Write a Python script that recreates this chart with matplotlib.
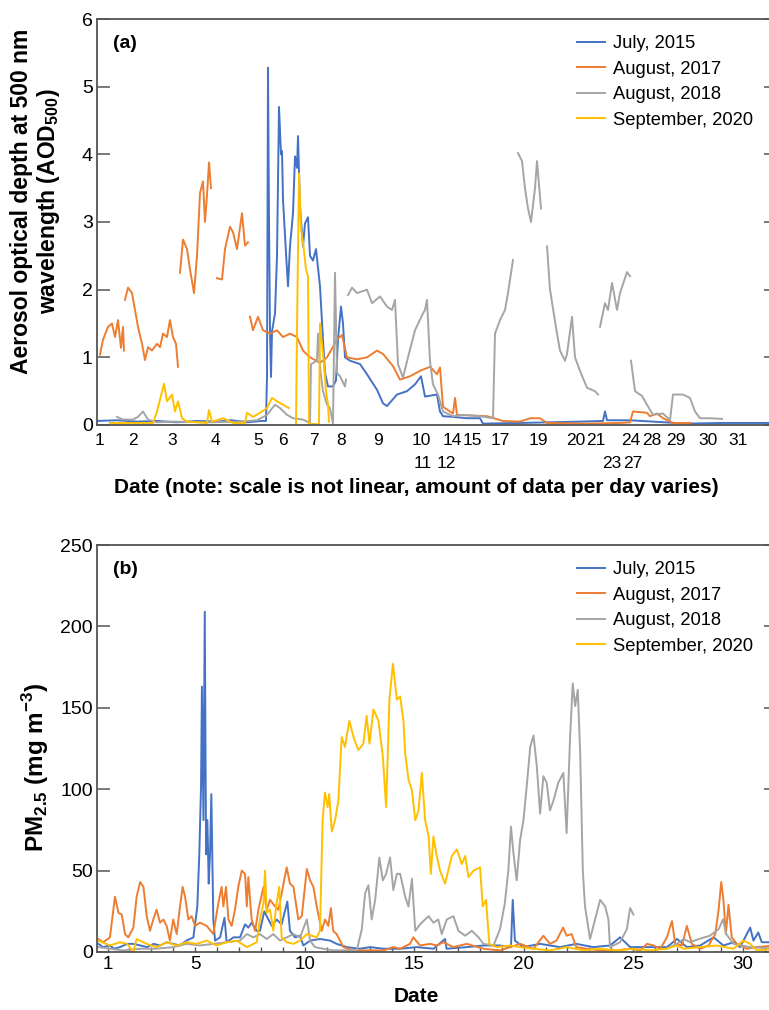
import numpy as np
import matplotlib
matplotlib.use('Agg')
import matplotlib.pyplot as plt

plt.rcParams['font.family'] = ['Liberation Sans', 'DejaVu Sans']
plt.rcParams['mathtext.fontset'] = 'custom'
plt.rcParams['mathtext.rm'] = 'Liberation Sans'
plt.rcParams['mathtext.bf'] = 'Liberation Sans:bold'

nan = np.nan

series_names = ['July, 2015', 'August, 2017', 'August, 2018', 'September, 2020']
series_colors = ['#4472c4', '#ed7d31', '#a5a5a5', '#ffc000']

# ---- panel (a): AOD500, x = position in the (non-linear) sample record ----
aod_day_pos = [3, 36, 75, 118, 161, 186, 217, 244, 281, 324, 355, 375, 403, 441,
               479, 499, 534, 555, 579, 611, 641]
aod_day_labels = ['1', '2', '3', '4', '5', '6', '7', '8', '9', '10', '14', '15', '17',
                  '19', '20', '21', '24', '28', '29', '30', '31']
aod_day_pos2 = [326, 349, 515, 536]
aod_day_labels2 = ['11', '12', '23', '27']

aod_jul2015 = [(0, 0.06), (20, 0.07), (40, 0.05), (60, 0.06), (80, 0.04), (100, 0.06), (120, 0.05),
               (135, 0.07), (150, 0.04), (165, 0.06), (169, 0.06), (170, 0.71), (171, 5.28),
               (172, 3.03), (173, 1.40), (174, 0.71), (175, 1.38), (178, 1.65), (180, 2.50),
               (182, 4.70), (184, 4.00), (185, 4.05), (186, 3.33), (189, 2.54), (191, 2.05),
               (193, 2.64), (196, 3.13), (198, 3.97), (200, 3.80), (201, 4.27), (203, 3.23),
               (206, 2.64), (208, 2.98), (211, 3.07), (213, 2.50), (216, 2.43), (219, 2.60),
               (223, 2.05), (226, 1.26), (228, 0.77), (231, 0.57), (236, 0.57), (239, 0.66),
               (241, 1.26), (244, 1.75), (246, 1.50), (248, 1.00), (253, 0.95), (263, 0.90),
               (270, 0.75), (280, 0.52), (286, 0.32), (290, 0.28), (300, 0.45), (310, 0.50),
               (318, 0.60), (324, 0.72), (328, 0.42), (340, 0.45), (343, 0.20), (346, 0.13),
               (356, 0.12), (370, 0.10), (383, 0.10), (386, 0.02), (423, 0.03), (483, 0.05),
               (506, 0.06), (508, 0.20), (510, 0.07), (533, 0.07), (556, 0.05), (590, 0.02),
               (623, 0.03), (680, 0.03)]

aod_aug2017 = [(3, 1.04), (6, 1.26), (11, 1.45), (15, 1.50), (18, 1.30), (21, 1.55), (24, 1.14),
               (26, 1.45), (27, 1.10), (27.5, nan),
               (28, 1.85), (31, 2.03), (35, 1.95), (38, 1.70), (41, 1.45), (45, 1.20), (48, 0.96),
               (51, 1.15), (55, 1.10), (60, 1.20), (63, 1.15), (66, 1.35), (70, 1.30), (73, 1.55),
               (76, 1.30), (79, 1.20), (81, 0.86), (82, nan),
               (83, 2.25), (86, 2.74), (90, 2.60), (93, 2.30), (97, 1.95), (100, 2.50), (103, 3.43),
               (106, 3.60), (108, 3.00), (110, 3.40), (112, 3.88), (114, 3.50), (116, nan),
               (120, 2.17), (125, 2.15), (128, 2.60), (133, 2.93), (136, 2.85), (140, 2.60),
               (145, 3.13), (148, 2.65), (151, 2.70), (152, nan),
               (153, 1.60), (156, 1.40), (161, 1.60), (166, 1.40), (173, 1.35), (180, 1.40),
               (186, 1.30), (193, 1.35), (200, 1.30), (206, 1.10), (213, 1.00), (223, 0.92),
               (230, 1.00), (240, 1.26), (245, 1.33), (250, 1.00), (260, 0.97), (270, 1.00),
               (280, 1.10), (286, 1.05), (296, 0.87), (303, 0.67), (313, 0.72), (323, 0.80),
               (333, 0.86), (340, 0.75), (343, 0.85), (346, 0.27), (356, 0.17), (358, 0.40),
               (360, 0.15), (390, 0.13), (406, 0.06), (423, 0.05), (433, 0.10), (443, 0.10),
               (450, 0.03), (490, 0.02), (523, 0.03), (533, 0.04), (536, 0.20), (550, 0.18),
               (553, 0.13), (560, 0.17), (566, 0.10), (576, 0.03), (593, 0.03)]

aod_aug2018 = [(20, 0.12), (26, 0.08), (36, 0.08), (41, 0.12), (46, 0.20), (51, 0.08), (60, 0.04),
               (76, 0.05), (110, 0.04), (143, 0.05), (160, 0.07), (170, 0.15), (178, 0.30),
               (183, 0.25), (190, 0.15), (196, 0.10), (206, 0.08), (213, 0.03), (214, 0.90),
               (220, 0.95), (221, 1.35), (223, 0.85), (226, 0.50), (230, 0.30), (233, 0.25),
               (236, 0.02), (238, 2.25), (240, 0.77), (243, 0.72), (248, 0.57), (249, 0.67),
               (249.5, nan),
               (251, 1.92), (255, 2.03), (260, 1.95), (270, 2.00), (275, 1.80), (283, 1.90),
               (290, 1.75), (295, 1.70), (298, 1.85), (301, 0.90), (306, 0.70), (311, 1.00),
               (318, 1.40), (326, 1.65), (328, 1.70), (330, 1.85), (333, 0.94), (336, 0.60),
               (341, 0.45), (346, 0.20), (356, 0.13), (366, 0.15), (383, 0.13), (396, 0.10),
               (398, 1.35), (403, 1.55), (408, 1.70), (411, 1.95), (416, 2.44), (418, nan),
               (421, 4.02), (425, 3.90), (428, 3.50), (431, 3.20), (434, 3.00), (438, 3.50),
               (440, 3.90), (444, 3.20), (446, nan),
               (450, 2.64), (453, 2.00), (460, 1.35), (463, 1.10), (468, 0.95), (470, 1.05),
               (475, 1.60), (478, 1.00), (483, 0.80), (490, 0.55), (498, 0.50), (501, 0.45),
               (502, nan),
               (503, 1.45), (508, 1.80), (511, 1.70), (515, 2.10), (520, 1.70), (523, 1.95),
               (530, 2.26), (533, 2.20), (533.5, nan),
               (534, 0.95), (538, 0.50), (545, 0.43), (550, 0.30), (556, 0.15), (566, 0.17),
               (573, 0.07), (576, 0.45), (586, 0.45), (593, 0.40), (598, 0.20), (603, 0.10),
               (613, 0.10), (625, 0.09)]

aod_sep2020 = [(13, 0.03), (56, 0.03), (60, 0.20), (67, 0.61), (70, 0.35), (75, 0.45), (78, 0.20),
               (81, 0.35), (85, 0.10), (90, 0.05), (110, 0.03), (112, 0.22), (115, 0.05),
               (126, 0.10), (136, 0.03), (148, 0.03), (150, 0.18), (156, 0.12), (163, 0.18),
               (170, 0.25), (175, 0.40), (180, 0.35), (186, 0.30), (192, 0.25), (194, nan),
               (199, 0.02), (200, 1.40), (202, 3.72), (204, 2.90), (206, 2.70), (209, 2.30),
               (211, 2.20), (212, 0.02), (222, 0.01), (223, 1.50), (225, 1.20), (227, 0.90),
               (229, 0.50), (231, 0.30), (232, 0.05)]

# ---- panel (b): PM2.5, x = day of month ----
pm_day_ticks = [1, 5, 10, 15, 20, 25, 30]

pm_jul2015 = [(0.58, 5), (0.8, 3), (1.1, 4), (1.3, 2), (1.57, 3), (1.9, 5), (2.18, 5), (2.5, 4),
              (2.8, 3), (3.1, 5), (3.4, 4), (3.7, 6), (4.0, 5), (4.3, 4), (4.61, 7), (4.92, 9),
              (5.1, 28), (5.19, 60), (5.27, 102), (5.31, 163), (5.38, 81), (5.44, 209),
              (5.5, 60), (5.56, 81), (5.62, 42), (5.68, 60), (5.74, 97), (5.83, 20), (5.91, 7),
              (6.14, 9), (6.34, 21), (6.44, 6), (6.75, 9), (7.05, 9), (7.28, 17), (7.43, 15),
              (7.58, 18), (7.81, 13), (7.96, 13), (8.16, 25), (8.27, 22), (8.5, 16), (8.72, 20),
              (8.95, 17), (9.21, 31), (9.33, 13), (9.56, 9), (9.79, 10), (9.94, 4), (10.25, 7),
              (10.7, 8), (11.16, 7), (11.46, 5), (11.92, 3), (12.52, 2), (12.99, 3), (13.6, 2),
              (14.36, 2), (15.12, 3), (15.88, 2), (16.41, 8), (16.48, 2), (17.4, 3), (18.16, 4),
              (18.92, 4), (19.42, 3), (19.5, 32), (19.6, 7), (19.99, 3), (20.75, 5), (21.66, 3),
              (22.4, 5), (23.18, 3), (23.94, 4), (24.4, 9), (24.86, 3), (25.63, 3), (26.54, 3),
              (27.0, 8), (27.45, 3), (28.06, 4), (28.67, 9), (29.12, 4), (29.58, 6), (29.88, 3),
              (30.34, 15), (30.49, 7), (30.71, 12), (30.87, 6), (31.5, 6)]

pm_aug2017 = [(0.58, 8), (0.8, 6), (1.11, 9), (1.34, 34), (1.5, 24), (1.65, 23), (1.8, 11),
              (1.95, 9), (2.18, 15), (2.33, 34), (2.49, 43), (2.64, 40), (2.79, 22), (2.94, 13),
              (3.09, 20), (3.24, 26), (3.4, 18), (3.55, 20), (3.7, 16), (3.85, 7), (4.0, 20),
              (4.16, 11), (4.31, 28), (4.43, 40), (4.54, 34), (4.69, 20), (4.84, 22), (5.0, 16),
              (5.22, 18), (5.53, 16), (5.83, 11), (6.06, 30), (6.21, 40), (6.29, 28), (6.41, 40),
              (6.52, 20), (6.67, 16), (6.82, 26), (6.97, 40), (7.13, 50), (7.28, 48), (7.36, 28),
              (7.43, 46), (7.58, 20), (7.74, 13), (7.89, 26), (8.12, 40), (8.27, 26), (8.42, 32),
              (8.65, 28), (8.8, 26), (8.95, 36), (9.18, 52), (9.33, 42), (9.49, 40), (9.71, 20),
              (9.87, 22), (10.1, 51), (10.25, 44), (10.4, 40), (10.55, 28), (10.78, 13),
              (10.93, 20), (11.08, 16), (11.2, 27), (11.3, 13), (11.46, 11), (11.77, 3),
              (12.2, 1), (12.83, 1), (13.6, 1), (14.05, 3), (14.36, 2), (14.81, 5), (14.96, 9),
              (15.27, 4), (15.73, 5), (16.03, 4), (16.34, 6), (16.79, 3), (17.4, 5), (18.16, 2),
              (18.92, 1), (19.38, 3), (19.84, 5), (20.45, 2), (20.9, 10), (21.2, 5), (21.5, 7),
              (21.8, 15), (21.96, 10), (22.19, 11), (22.4, 3), (22.88, 2), (23.49, 1), (24.25, 1),
              (24.86, 2), (25.32, 1), (25.63, 5), (25.93, 4), (26.24, 2), (26.54, 9), (26.77, 19),
              (26.92, 5), (27.23, 4), (27.45, 16), (27.68, 5), (28.06, 2), (28.44, 4), (28.75, 11),
              (28.9, 26), (29.02, 43), (29.12, 32), (29.23, 11), (29.35, 29), (29.5, 9),
              (29.73, 5), (30.19, 2), (30.64, 3), (31.5, 4)]

pm_aug2018 = [(0.58, 3), (1.11, 2), (1.7, 1), (2.49, 2), (3.2, 2), (4.0, 3), (4.61, 5), (5.22, 4),
              (5.83, 5), (6.44, 6), (7.05, 7), (7.36, 11), (7.66, 9), (7.96, 11), (8.27, 8),
              (8.57, 11), (8.88, 7), (9.18, 9), (9.49, 11), (9.79, 9), (10.1, 20), (10.25, 7),
              (10.47, 3), (10.85, 2), (11.31, 1), (11.92, 1), (12.38, 1), (12.61, 14), (12.76, 36),
              (12.91, 41), (13.06, 20), (13.22, 32), (13.41, 58), (13.57, 44), (13.72, 48),
              (13.9, 58), (14.05, 38), (14.21, 48), (14.36, 48), (14.59, 34), (14.74, 28),
              (14.9, 45), (15.05, 13), (15.27, 17), (15.5, 20), (15.66, 22), (15.88, 18),
              (16.1, 20), (16.26, 11), (16.49, 20), (16.79, 22), (17.02, 13), (17.33, 10),
              (17.63, 13), (17.94, 9), (18.16, 5), (18.62, 4), (18.92, 14), (19.14, 30),
              (19.3, 50), (19.42, 77), (19.53, 61), (19.68, 44), (19.84, 69), (19.99, 81),
              (20.14, 102), (20.3, 126), (20.45, 133), (20.6, 114), (20.75, 85), (20.9, 108),
              (21.05, 104), (21.2, 87), (21.36, 93), (21.58, 104), (21.81, 110), (21.96, 73),
              (22.12, 132), (22.24, 165), (22.35, 151), (22.47, 161), (22.58, 122), (22.7, 50),
              (22.8, 28), (23.03, 8), (23.26, 20), (23.49, 32), (23.72, 28), (23.87, 20),
              (23.94, 3), (24.4, 6), (24.71, 14), (24.86, 27), (25.01, 23), (25.1, nan),
              (26.5, 2), (27.0, 5), (27.3, 8), (27.6, 6), (28.0, 8), (28.5, 10), (28.9, 14),
              (29.1, 20), (29.25, 11), (29.58, 5), (30.34, 3), (31.5, 2)]

pm_sep2020 = [(0.58, 7), (1.11, 4), (1.57, 6), (1.9, 5), (2.18, 0), (2.33, 8), (2.79, 5), (3.24, 3),
              (3.7, 6), (4.16, 4), (4.61, 6), (5.07, 5), (5.53, 7), (5.98, 4), (6.44, 6), (6.9, 7),
              (7.36, 3), (7.81, 6), (7.96, 20), (8.12, 30), (8.19, 50), (8.27, 24), (8.42, 26),
              (8.57, 13), (8.72, 30), (8.84, 40), (8.95, 9), (9.18, 6), (9.49, 5), (9.79, 7),
              (10.1, 11), (10.55, 9), (10.7, 13), (10.82, 81), (10.93, 98), (11.05, 89),
              (11.12, 97), (11.24, 74), (11.39, 81), (11.54, 93), (11.69, 132), (11.84, 126),
              (12.04, 142), (12.23, 132), (12.45, 124), (12.68, 128), (12.83, 145), (12.96, 128),
              (13.14, 149), (13.37, 142), (13.57, 120), (13.72, 89), (13.87, 155), (14.03, 177),
              (14.21, 155), (14.36, 157), (14.51, 142), (14.59, 122), (14.74, 106), (14.9, 99),
              (15.05, 81), (15.2, 87), (15.35, 110), (15.5, 81), (15.66, 71), (15.76, 48),
              (15.88, 71), (16.03, 59), (16.18, 50), (16.41, 42), (16.72, 59), (16.95, 63),
              (17.17, 54), (17.33, 59), (17.48, 46), (17.71, 50), (18.01, 52), (18.13, 28),
              (18.28, 32), (18.43, 5), (18.77, 3), (19.38, 4), (19.84, 3), (20.45, 2), (21.2, 1),
              (21.96, 3), (22.73, 1), (23.49, 2), (24.25, 1), (25.01, 2), (25.78, 1), (26.54, 2),
              (27.0, 4), (27.3, 2), (28.06, 3), (28.82, 4), (29.58, 2), (30.03, 7), (30.34, 5),
              (30.64, 1), (31.5, 2)]

aod_series = [aod_jul2015, aod_aug2017, aod_aug2018, aod_sep2020]
pm_series = [pm_jul2015, pm_aug2017, pm_aug2018, pm_sep2020]

W, H = 769, 1010
fig = plt.figure(figsize=(W / 100, H / 100), dpi=100)
ax1 = fig.add_axes([97 / W, 1 - 425 / H, 679 / W, 406 / H])
ax2 = fig.add_axes([97 / W, 1 - 952 / H, 679 / W, 407 / H])

for data, name, color in zip(aod_series, series_names, series_colors):
    x, y = zip(*data)
    ax1.plot(x, y, color=color, lw=1.4, label=name)
for data, name, color in zip(pm_series, series_names, series_colors):
    x, y = zip(*data)
    ax2.plot(x, y, color=color, lw=1.4, label=name)

spine_color = '#555555'
for ax in (ax1, ax2):
    for s in ax.spines.values():
        s.set_color(spine_color)
        s.set_linewidth(1.3)
    ax.tick_params(axis='y', which='both', direction='in', length=9, width=1.1,
                   color=spine_color, labelsize=14, pad=3, right=True)
    ax.legend(loc='upper left', bbox_to_anchor=(0.707, 0.96), frameon=False, fontsize=13.2,
              handlelength=1.5, handletextpad=0.45, labelspacing=0.46, borderpad=0,
              borderaxespad=0)

# panel (a)
ax1.set_xlim(0, 679)
ax1.set_ylim(0, 6)
ax1.set_yticks(range(0, 7))
ax1.set_xticks(aod_day_pos, aod_day_labels)
ax1.set_xticks(aod_day_pos2, aod_day_labels2, minor=True)
ax1.tick_params(axis='x', which='major', length=0, labelsize=12.5, pad=6)
ax1.tick_params(axis='x', which='minor', length=0, labelsize=12.5, pad=22)
ax1.set_xlabel('Date (note: scale is not linear, amount of data per day varies)',
               fontsize=15, fontweight='bold')
ax1.xaxis.set_label_coords(0.47, -0.13)
ax1.set_ylabel('Aerosol optical depth at 500 nm\nwavelength (AOD$_{\\mathbf{500}}$)',
               fontsize=16.5, fontweight='bold', linespacing=1.1)
ax1.yaxis.set_label_coords(-0.052, 0.55)
ax1.text(0.023, 0.94, '(a)', transform=ax1.transAxes, fontsize=14, fontweight='bold',
         va='center', ha='left')

# panel (b)
ax2.set_xlim(0.52, 31.52)
ax2.set_ylim(0, 250)
ax2.set_yticks(range(0, 251, 50))
ax2.set_xticks(pm_day_ticks)
ax2.set_xticks(range(1, 32), minor=True)
ax2.tick_params(axis='x', which='both', direction='in', length=3.5, width=1.0,
                color=spine_color, labelsize=13.5, pad=3)
ax2.set_xlabel('Date', fontsize=15, fontweight='bold')
ax2.xaxis.set_label_coords(0.47, -0.085)
ax2.set_ylabel('PM$_{\\mathbf{2.5}}$ (mg m$^{\\mathbf{-3}}$)', fontsize=17.5, fontweight='bold')
ax2.yaxis.set_label_coords(-0.068, 0.455)
ax2.text(0.023, 0.939, '(b)', transform=ax2.transAxes, fontsize=14, fontweight='bold',
         va='center', ha='left')

fig.savefig('out.png', dpi=100)
